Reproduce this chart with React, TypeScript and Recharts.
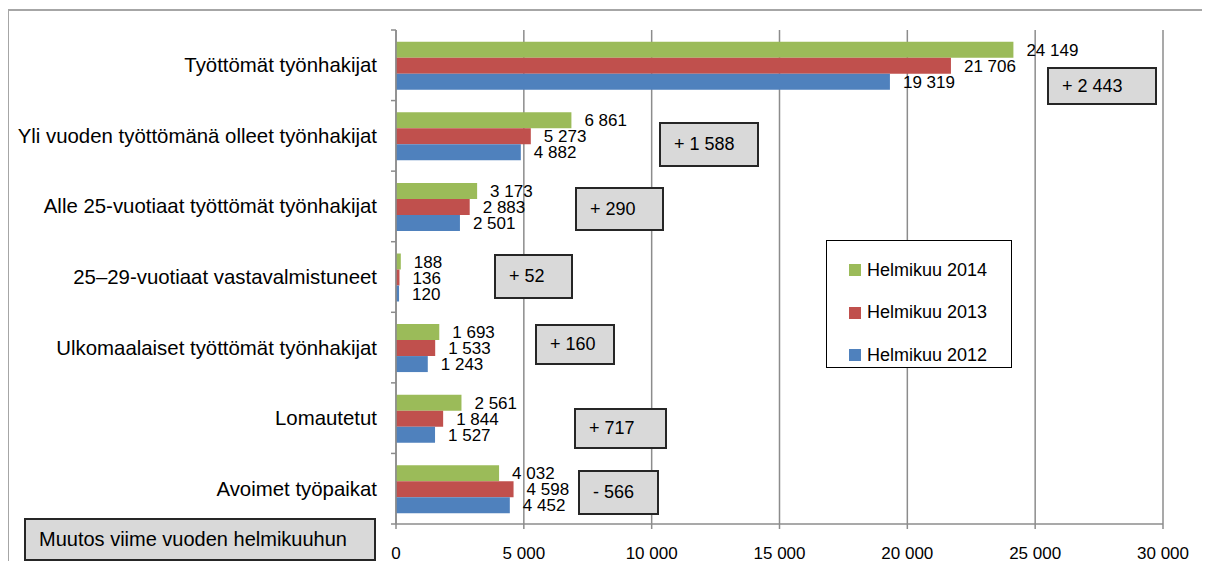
import { BarChart, Bar, XAxis, YAxis, CartesianGrid, LabelList, Legend } from 'recharts';

const categories = [
    'Työttömät työnhakijat',
    'Yli vuoden työttömänä olleet työnhakijat',
    'Alle 25-vuotiaat työttömät työnhakijat',
    '25–29-vuotiaat vastavalmistuneet',
    'Ulkomaalaiset työttömät työnhakijat',
    'Lomautetut',
    'Avoimet työpaikat'
];
const feb2014 = [24149, 6861, 3173, 188, 1693, 2561, 4032];
const feb2013 = [21706, 5273, 2883, 136, 1533, 1844, 4598];
const feb2012 = [19319, 4882, 2501, 120, 1243, 1527, 4452];
const seriesNames = ['Helmikuu 2014', 'Helmikuu 2013', 'Helmikuu 2012'];
const xTicks = [0, 5000, 10000, 15000, 20000, 25000, 30000];
const changeTitle = 'Muutos viime vuoden helmikuuhun';

// where the change boxes sit (left, top, width, height) - one per category
const changeBoxes = [
    [1047, 67, 110, 38],
    [659, 122, 100, 45],
    [575, 187, 89, 44],
    [494, 254, 79, 45],
    [535, 324, 80, 41],
    [574, 408, 93, 41],
    [578, 470, 81, 45]
];

const W = 1210;
const H = 569;
const Y_AXIS_W = 396;
const X_AXIS_H = 30;
const margin = { top: 30, right: 47, bottom: 15, left: 0 };
const band = (H - margin.top - margin.bottom - X_AXIS_H) / categories.length;
const FONT = '"Liberation Sans", Arial, sans-serif';
const colors = ['#9BBB59', '#C0504D', '#4F81BD'];
const gridColor = '#8c8c8c';

const data = categories.map((name, i) => ({
    name,
    y2014: feb2014[i],
    y2013: feb2013[i],
    y2012: feb2012[i]
}));

function fmt(v: number) {
    return String(v).replace(/\B(?=(\d{3})+(?!\d))/g, ' ');
}

function fmtChange(v: number) {
    return (v >= 0 ? '+ ' : '- ') + fmt(Math.abs(v));
}

function CategoryTick(props: any) {
    const { y, payload, index } = props;
    const ax = Y_AXIS_W;
    return (
        <g>
            <line x1={ax - 5} x2={ax} y1={y - band / 2} y2={y - band / 2} stroke={gridColor} strokeWidth={1.5} />
            {index === categories.length - 1 && (
                <line x1={ax - 5} x2={ax} y1={y + band / 2} y2={y + band / 2} stroke={gridColor} strokeWidth={1.5} />
            )}
            <text x={ax - 19} y={y} textAnchor="end" dominantBaseline="central" fontSize={20.4} fill="#000" fontFamily={FONT}>
                {payload.value}
            </text>
        </g>
    );
}

function LegendBox(props: any) {
    // keep the series order: 2014 on top
    const items = [...(props.payload || [])].sort(
        (a: any, b: any) => seriesNames.indexOf(a.value) - seriesNames.indexOf(b.value)
    );
    return (
        <div style={{
            width: 186, height: 128, boxSizing: 'border-box', border: '1.5px solid #000',
            background: '#fff', paddingTop: 8, fontFamily: FONT
        }}>
            {items.map((it: any) => (
                <div key={it.value} style={{ height: 42.5, display: 'flex', alignItems: 'center', paddingLeft: 22 }}>
                    <span style={{ width: 12, height: 12, background: it.color, display: 'inline-block', marginRight: 6 }} />
                    <span style={{ fontSize: 18, color: '#000' }}>{it.value}</span>
                </div>
            ))}
        </div>
    );
}

const boxStyle = {
    position: 'absolute' as const,
    boxSizing: 'border-box' as const,
    background: '#d9d9d9',
    border: '2px solid #262626',
    display: 'flex',
    alignItems: 'center',
    paddingLeft: 13,
    fontFamily: FONT,
    color: '#000'
};

export default function App() {
    return (
        <div style={{ position: 'relative', width: W, height: H, margin: -8, overflow: 'hidden', background: '#fff' }}>
            <div style={{
                position: 'absolute', left: 7, top: 9, right: -10, bottom: -10,
                borderTop: '2px solid #a6a6a6', borderLeft: '2px solid #a6a6a6'
            }} />
            <div style={{ position: 'absolute', left: 0, top: 0 }}>
                <BarChart width={W} height={H} data={data} layout="vertical" margin={margin}
                    barCategoryGap="16.7%" barGap={0}>
                    <CartesianGrid horizontal={false} stroke={gridColor} strokeWidth={1.5} />
                    <XAxis type="number" domain={[0, 30000]} ticks={xTicks} tickFormatter={fmt}
                        height={X_AXIS_H} tickSize={5} tickMargin={18}
                        stroke={gridColor} strokeWidth={1.5}
                        tick={{ fontSize: 17, fill: '#000', fontFamily: FONT }} />
                    <YAxis type="category" dataKey="name" width={Y_AXIS_W} tickLine={false}
                        stroke={gridColor} strokeWidth={1.5} interval={0} tick={<CategoryTick />} />
                    <Legend layout="vertical" align="center" verticalAlign="middle" content={<LegendBox />}
                        wrapperStyle={{ left: 826, top: 240, width: 186, height: 128, bottom: 'auto', right: 'auto' }} />
                    <Bar dataKey="y2014" name={seriesNames[0]} fill={colors[0]} isAnimationActive={false}>
                        <LabelList dataKey="y2014" position="right" offset={13} formatter={(v: any) => fmt(v)}
                            style={{ fontSize: 17, fill: '#000', fontFamily: FONT }} />
                    </Bar>
                    <Bar dataKey="y2013" name={seriesNames[1]} fill={colors[1]} isAnimationActive={false}>
                        <LabelList dataKey="y2013" position="right" offset={13} formatter={(v: any) => fmt(v)}
                            style={{ fontSize: 17, fill: '#000', fontFamily: FONT }} />
                    </Bar>
                    <Bar dataKey="y2012" name={seriesNames[2]} fill={colors[2]} isAnimationActive={false}>
                        <LabelList dataKey="y2012" position="right" offset={13} formatter={(v: any) => fmt(v)}
                            style={{ fontSize: 17, fill: '#000', fontFamily: FONT }} />
                    </Bar>
                </BarChart>
            </div>
            {changeBoxes.map(([l, t, w, h], i) => (
                <div key={i} style={{ ...boxStyle, left: l, top: t, width: w, height: h, fontSize: 18 }}>
                    {fmtChange(feb2014[i] - feb2013[i])}
                </div>
            ))}
            <div style={{ ...boxStyle, left: 24, top: 518, width: 352, height: 43, fontSize: 20 }}>
                {changeTitle}
            </div>
        </div>
    );
}
